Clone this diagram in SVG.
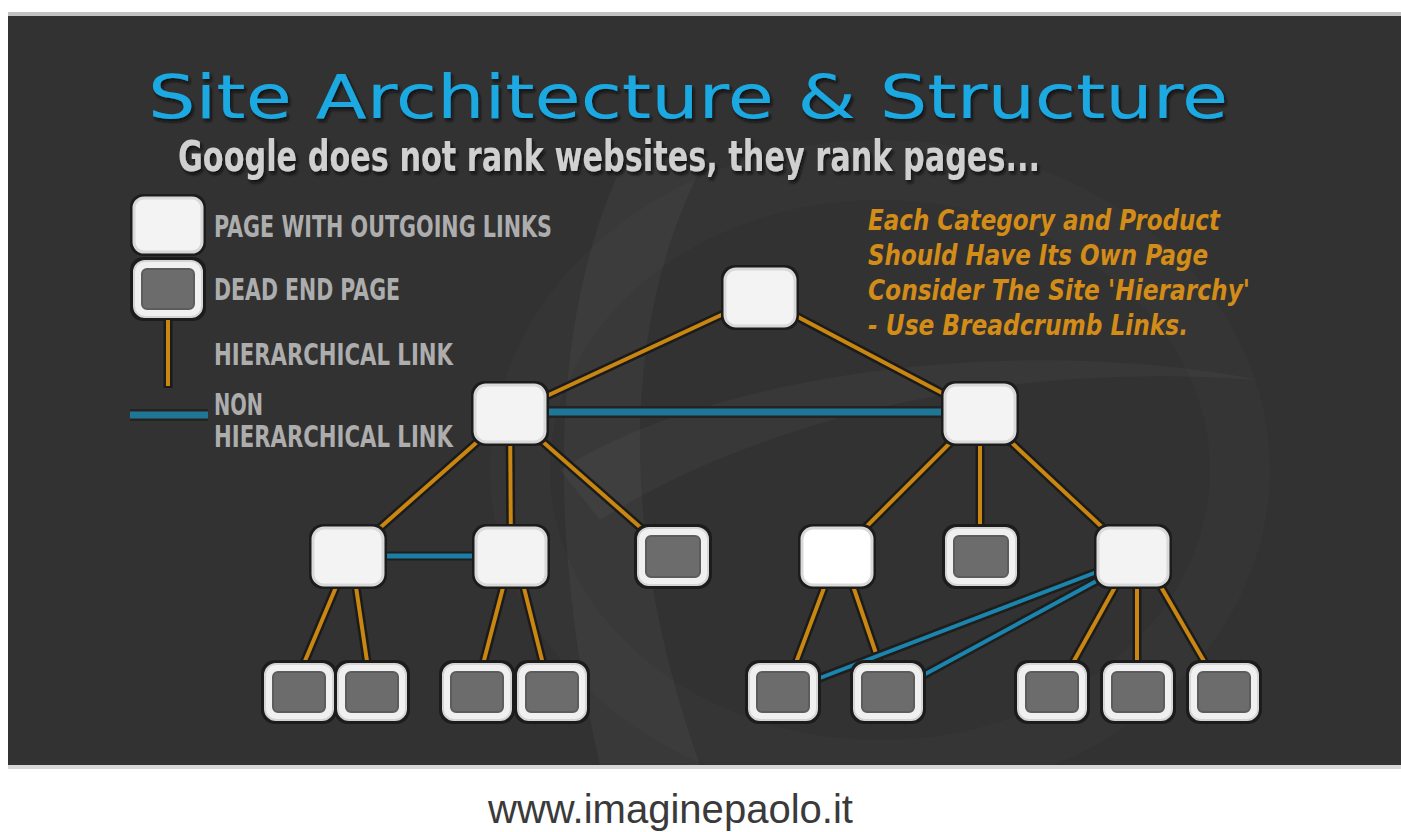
<svg xmlns="http://www.w3.org/2000/svg" width="1401" height="832" viewBox="0 0 1401 832">
<defs>
<style>
.title{font-family:"DejaVu Sans",sans-serif;font-size:60px;fill:#1aa9e2}
.sub{font-family:"DejaVu Sans Condensed","DejaVu Sans",sans-serif;font-weight:bold;font-size:42px;fill:#d0d0d0}
.leg{font-family:"DejaVu Sans Condensed","DejaVu Sans",sans-serif;font-weight:bold;font-size:30px;fill:#adadad}
.note{font-family:"DejaVu Sans Condensed","DejaVu Sans",sans-serif;font-weight:bold;font-style:italic;font-size:29px;fill:#d38c17}
.foot{font-family:"Liberation Sans",Arial,sans-serif;font-size:40px;fill:#3a3a3a}
.case{stroke:#1b1b1b;stroke-width:9;fill:none}
.hier{stroke:#c98610;stroke-width:4;fill:none}
.bcase{stroke:#252220;stroke-width:12;fill:none}
.blue{stroke:#1f7797;stroke-width:7;fill:none}
.bcase2{stroke:#201e1c;stroke-width:9;fill:none}
.blue2{stroke:#1a86b0;stroke-width:4;fill:none}
.shadow{fill:#1c1c1c}
.pg{fill:#f3f3f3;stroke:#d9d9d9;stroke-width:3}
.dring{fill:#f0f0f0;stroke:#d5d5d5;stroke-width:2}
.dfill{fill:#6c6c6c;stroke:#5c5c5c;stroke-width:2}
</style>
<filter id="ts" x="-5%" y="-20%" width="110%" height="150%">
<feDropShadow dx="2" dy="3" stdDeviation="1.5" flood-color="#111111" flood-opacity="0.9"/>
</filter>
</defs>
<!-- background -->
<rect x="0" y="0" width="1401" height="832" fill="#ffffff"/>
<rect x="8" y="12" width="1393" height="4" fill="#c2c2c2"/>
<rect x="8" y="16" width="1393" height="749" fill="#323232"/>
<rect x="8" y="765" width="1393" height="4" fill="#d8d8d8"/>
<path d="M620,170 C560,300 540,500 600,765 L700,765 C620,540 620,330 700,170 Z" fill="#ffffff" opacity="0.035"/>
<path d="M560,470 C700,380 1000,330 1260,380 C1000,360 760,420 600,520 Z" fill="#ffffff" opacity="0.03"/>
<ellipse cx="880" cy="470" rx="360" ry="300" fill="none" stroke="#ffffff" stroke-opacity="0.015" stroke-width="60"/>

<!-- titles -->
<g id="title">
<text class="title" x="148" y="118" textLength="1080" lengthAdjust="spacingAndGlyphs" filter="url(#ts)">Site Architecture &amp; Structure</text>
<text class="sub" x="178" y="171" textLength="862" lengthAdjust="spacingAndGlyphs" filter="url(#ts)">Google does not rank websites, they rank pages...</text>
</g>

<!-- legend -->
<g id="legend">
<rect class="shadow" x="130" y="194" width="76" height="62" rx="13"/>
<rect class="pg" x="134" y="198" width="68" height="54" rx="10"/>
<rect class="shadow" x="130" y="257" width="76" height="64" rx="13"/>
<rect class="dring" x="134" y="261" width="68" height="56" rx="11"/>
<rect class="dfill" x="142" y="269" width="52" height="40" rx="5"/>
<line class="case" x1="168" y1="320" x2="168" y2="388"/>
<line class="hier" x1="168" y1="320" x2="168" y2="386"/>
<line class="bcase" x1="130" y1="415" x2="208" y2="415"/>
<line class="blue" x1="130" y1="415" x2="208" y2="415"/>
<text class="leg" x="214" y="237" textLength="338" lengthAdjust="spacingAndGlyphs">PAGE WITH OUTGOING LINKS</text>
<text class="leg" x="214" y="300" textLength="186" lengthAdjust="spacingAndGlyphs">DEAD END PAGE</text>
<text class="leg" x="214" y="365" textLength="239" lengthAdjust="spacingAndGlyphs">HIERARCHICAL LINK</text>
<text class="leg" x="214" y="415" textLength="49" lengthAdjust="spacingAndGlyphs">NON</text>
<text class="leg" x="214" y="447" textLength="239" lengthAdjust="spacingAndGlyphs">HIERARCHICAL LINK</text>
</g>

<!-- note -->
<g id="note">
<text class="note" x="868" y="230" textLength="352" lengthAdjust="spacingAndGlyphs">Each Category and Product</text>
<text class="note" x="868" y="265" textLength="340" lengthAdjust="spacingAndGlyphs">Should Have Its Own Page</text>
<text class="note" x="868" y="300" textLength="382" lengthAdjust="spacingAndGlyphs">Consider The Site 'Hierarchy'</text>
<text class="note" x="868" y="335" textLength="320" lengthAdjust="spacingAndGlyphs">- Use Breadcrumb Links.</text>
</g>

<!-- connectors -->
<g id="connectors">
<g class="case">
<line x1="760" y1="297" x2="510" y2="413"/>
<line x1="760" y1="297" x2="980" y2="413"/>
<line x1="510" y1="413" x2="348" y2="556"/>
<line x1="510" y1="413" x2="511" y2="556"/>
<line x1="510" y1="413" x2="673" y2="556"/>
<line x1="980" y1="413" x2="837" y2="556"/>
<line x1="980" y1="413" x2="980" y2="556"/>
<line x1="980" y1="413" x2="1133" y2="556"/>
<line x1="339" y1="580" x2="302" y2="668"/>
<line x1="355" y1="580" x2="368" y2="668"/>
<line x1="505" y1="580" x2="482" y2="668"/>
<line x1="522" y1="580" x2="544" y2="668"/>
<line x1="827" y1="580" x2="794" y2="668"/>
<line x1="851" y1="580" x2="881" y2="668"/>
<line x1="1119" y1="580" x2="1070" y2="668"/>
<line x1="1137" y1="580" x2="1137" y2="668"/>
<line x1="1157" y1="580" x2="1208" y2="668"/>
</g>
<g class="hier">
<line x1="760" y1="297" x2="510" y2="413"/>
<line x1="760" y1="297" x2="980" y2="413"/>
<line x1="510" y1="413" x2="348" y2="556"/>
<line x1="510" y1="413" x2="511" y2="556"/>
<line x1="510" y1="413" x2="673" y2="556"/>
<line x1="980" y1="413" x2="837" y2="556"/>
<line x1="980" y1="413" x2="980" y2="556"/>
<line x1="980" y1="413" x2="1133" y2="556"/>
<line x1="339" y1="580" x2="302" y2="668"/>
<line x1="355" y1="580" x2="368" y2="668"/>
<line x1="505" y1="580" x2="482" y2="668"/>
<line x1="522" y1="580" x2="544" y2="668"/>
<line x1="827" y1="580" x2="794" y2="668"/>
<line x1="851" y1="580" x2="881" y2="668"/>
<line x1="1119" y1="580" x2="1070" y2="668"/>
<line x1="1137" y1="580" x2="1137" y2="668"/>
<line x1="1157" y1="580" x2="1208" y2="668"/>
</g>
<line class="bcase" x1="540" y1="412" x2="950" y2="412"/>
<line class="blue" x1="540" y1="412" x2="950" y2="412"/>
<line class="bcase2" x1="378" y1="556" x2="480" y2="556"/>
<line class="blue" style="stroke-width:5;stroke:#1b7ea6" x1="378" y1="556" x2="480" y2="556"/>
<line class="bcase2" x1="1102" y1="570" x2="812" y2="681"/>
<line class="blue2" x1="1102" y1="570" x2="812" y2="681"/>
<line class="bcase2" x1="1102" y1="578" x2="918" y2="678"/>
<line class="blue2" x1="1102" y1="578" x2="918" y2="678"/>
</g>

<!-- pages with outgoing links -->
<g id="root"><rect class="shadow" x="721" y="265" width="78" height="65" rx="14"/><rect class="pg" x="725" y="269" width="70" height="57" rx="11"/></g>
<g id="cat-left"><rect class="shadow" x="471" y="381" width="78" height="65" rx="14"/><rect class="pg" x="475" y="385" width="70" height="57" rx="11"/></g>
<g id="cat-right"><rect class="shadow" x="941" y="381" width="78" height="65" rx="14"/><rect class="pg" x="945" y="385" width="70" height="57" rx="11"/></g>
<g id="sub-a"><rect class="shadow" x="309" y="524" width="78" height="65" rx="14"/><rect class="pg" x="313" y="528" width="70" height="57" rx="11"/></g>
<g id="sub-b"><rect class="shadow" x="472" y="524" width="78" height="65" rx="14"/><rect class="pg" x="476" y="528" width="70" height="57" rx="11"/></g>
<g id="sub-d"><rect class="shadow" x="798" y="524" width="78" height="65" rx="14"/><rect class="pg" x="802" y="528" width="70" height="57" rx="11" style="fill:#ffffff"/></g>
<g id="sub-f"><rect class="shadow" x="1094" y="524" width="78" height="65" rx="14"/><rect class="pg" x="1098" y="528" width="70" height="57" rx="11"/></g>

<!-- dead end pages -->
<g id="dead-c"><rect class="shadow" x="634" y="524" width="78" height="65" rx="14"/><rect class="dring" x="638" y="528" width="70" height="57" rx="11"/><rect class="dfill" x="646" y="536" width="54" height="41" rx="5"/></g>
<g id="dead-e"><rect class="shadow" x="942" y="524" width="78" height="65" rx="14"/><rect class="dring" x="946" y="528" width="70" height="57" rx="11"/><rect class="dfill" x="954" y="536" width="54" height="41" rx="5"/></g>
<g id="leaf-1"><rect class="shadow" x="261" y="660" width="76" height="64" rx="14"/><rect class="dring" x="265" y="664" width="68" height="56" rx="11"/><rect class="dfill" x="273" y="672" width="52" height="40" rx="5"/></g>
<g id="leaf-2"><rect class="shadow" x="334" y="660" width="76" height="64" rx="14"/><rect class="dring" x="338" y="664" width="68" height="56" rx="11"/><rect class="dfill" x="346" y="672" width="52" height="40" rx="5"/></g>
<g id="leaf-3"><rect class="shadow" x="439" y="660" width="76" height="64" rx="14"/><rect class="dring" x="443" y="664" width="68" height="56" rx="11"/><rect class="dfill" x="451" y="672" width="52" height="40" rx="5"/></g>
<g id="leaf-4"><rect class="shadow" x="514" y="660" width="76" height="64" rx="14"/><rect class="dring" x="518" y="664" width="68" height="56" rx="11"/><rect class="dfill" x="526" y="672" width="52" height="40" rx="5"/></g>
<g id="leaf-5"><rect class="shadow" x="745" y="660" width="76" height="64" rx="14"/><rect class="dring" x="749" y="664" width="68" height="56" rx="11"/><rect class="dfill" x="757" y="672" width="52" height="40" rx="5"/></g>
<g id="leaf-6"><rect class="shadow" x="850" y="660" width="76" height="64" rx="14"/><rect class="dring" x="854" y="664" width="68" height="56" rx="11"/><rect class="dfill" x="862" y="672" width="52" height="40" rx="5"/></g>
<g id="leaf-7"><rect class="shadow" x="1014" y="660" width="76" height="64" rx="14"/><rect class="dring" x="1018" y="664" width="68" height="56" rx="11"/><rect class="dfill" x="1026" y="672" width="52" height="40" rx="5"/></g>
<g id="leaf-8"><rect class="shadow" x="1100" y="660" width="76" height="64" rx="14"/><rect class="dring" x="1104" y="664" width="68" height="56" rx="11"/><rect class="dfill" x="1112" y="672" width="52" height="40" rx="5"/></g>
<g id="leaf-9"><rect class="shadow" x="1186" y="660" width="76" height="64" rx="14"/><rect class="dring" x="1190" y="664" width="68" height="56" rx="11"/><rect class="dfill" x="1198" y="672" width="52" height="40" rx="5"/></g>

<!-- footer -->
<text class="foot" x="488" y="823" textLength="365" lengthAdjust="spacingAndGlyphs">www.imaginepaolo.it</text>
</svg>
